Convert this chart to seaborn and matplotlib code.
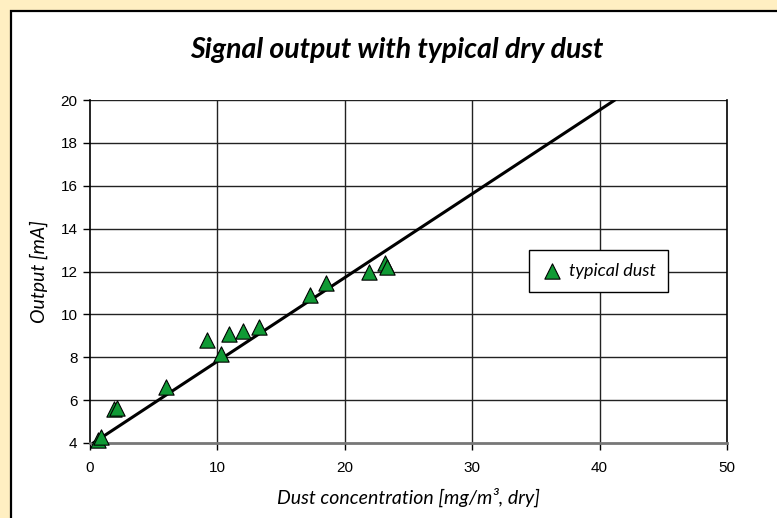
import numpy as np
import pandas as pd
import matplotlib
matplotlib.use('Agg')
import matplotlib.pyplot as plt
import matplotlib.patches as mpatches
import seaborn as sns

# measured points (dust concentration vs output)
dust_mg = [0.6, 0.9, 1.9, 2.1, 6.0, 9.2, 10.3, 10.9, 12.0, 13.3, 17.3, 18.5, 21.9, 23.15, 23.35]
output_ma = [4.12, 4.27, 5.57, 5.62, 6.63, 8.80, 8.14, 9.07, 9.22, 9.40, 10.90, 11.45, 11.96, 12.38, 12.22]

# trend line end points
trend_x = [0.25, 41.2]
trend_y = [4.0, 20.0]

x_ticks = [0, 10, 20, 30, 40, 50]
y_ticks = [4, 6, 8, 10, 12, 14, 16, 18, 20]

yellow = '#FFEFC2'
green = '#109A35'

sns.set_style("white")
plt.rcParams['font.family'] = ['Liberation Sans', 'DejaVu Sans']
plt.rcParams['text.color'] = 'black'
plt.rcParams['axes.labelcolor'] = 'black'
plt.rcParams['xtick.color'] = 'black'
plt.rcParams['ytick.color'] = 'black'

fig = plt.figure(figsize=(7.77, 5.18), dpi=100)
fig.patch.set_facecolor(yellow)

# white panel with black border
panel = mpatches.Rectangle((11 / 777, -0.05), 1.1, 1 - 11 / 518 + 0.05,
                           transform=fig.transFigure, facecolor='white',
                           edgecolor='black', linewidth=1.6, zorder=-5)
fig.patches.append(panel)

ax = fig.add_axes([90 / 777, 1 - 443 / 518, 637 / 777, 343 / 518])
ax.set_zorder(2)
ax.set_facecolor('white')

df = pd.DataFrame({'dust': dust_mg, 'output': output_ma})
sns.lineplot(x=trend_x, y=trend_y, ax=ax, color='black', linewidth=2.2, zorder=3)
sns.scatterplot(data=df, x='dust', y='output', ax=ax, marker='^', s=11 ** 2,
                color=green, edgecolor='black', linewidth=0.8, zorder=4,
                label='typical dust', clip_on=False)

ax.set_xlim(0, 50)
ax.set_ylim(4, 20)
ax.set_xticks(x_ticks)
ax.set_yticks(y_ticks)
ax.tick_params(axis='both', direction='out', length=5, width=1, color='black',
               labelcolor='black', labelsize=11, pad=4)
ax.tick_params(axis='x', pad=8)
ax.tick_params(axis='both', bottom=True, left=True)

# grid
for xv in x_ticks[1:-1]:
    ax.axvline(xv, color='#222222', linewidth=1, zorder=1)
for yv in y_ticks[1:]:
    ax.axhline(yv, color='#222222', linewidth=1, zorder=1)

ax.spines['left'].set_color('black')
ax.spines['left'].set_linewidth(1.2)
ax.spines['right'].set_color('black')
ax.spines['right'].set_linewidth(1.2)
ax.spines['top'].set_visible(False)
ax.spines['bottom'].set_color('#777777')
ax.spines['bottom'].set_linewidth(2)

ax.set_xlabel('Dust concentration [mg/m³, dry]', family=['Lato', 'DejaVu Sans'],
              style='italic', fontsize=14, labelpad=9, color='black')
ax.set_ylabel('Output [mA]', family=['Lato', 'DejaVu Sans'],
              style='italic', fontsize=14, labelpad=9, color='black')

fig.text(397 / 777, 1 - 50 / 518, 'Signal output with typical dry dust',
         family=['Lato', 'DejaVu Sans'], style='italic', weight='bold',
         fontsize=20.5, ha='center', va='center', color='black')

leg = ax.legend(loc='center', bbox_to_anchor=(598.5 / 777, 1 - 271 / 518),
                bbox_transform=fig.transFigure, frameon=True, fancybox=False,
                edgecolor='black', framealpha=1, handletextpad=0.3,
                borderpad=0.7, handlelength=1.2,
                prop={'family': ['Lato', 'DejaVu Sans'], 'style': 'italic', 'size': 13})
leg.get_frame().set_linewidth(1)
for t in leg.get_texts():
    t.set_color('black')

fig.savefig('out.png', dpi=100, facecolor=yellow)
